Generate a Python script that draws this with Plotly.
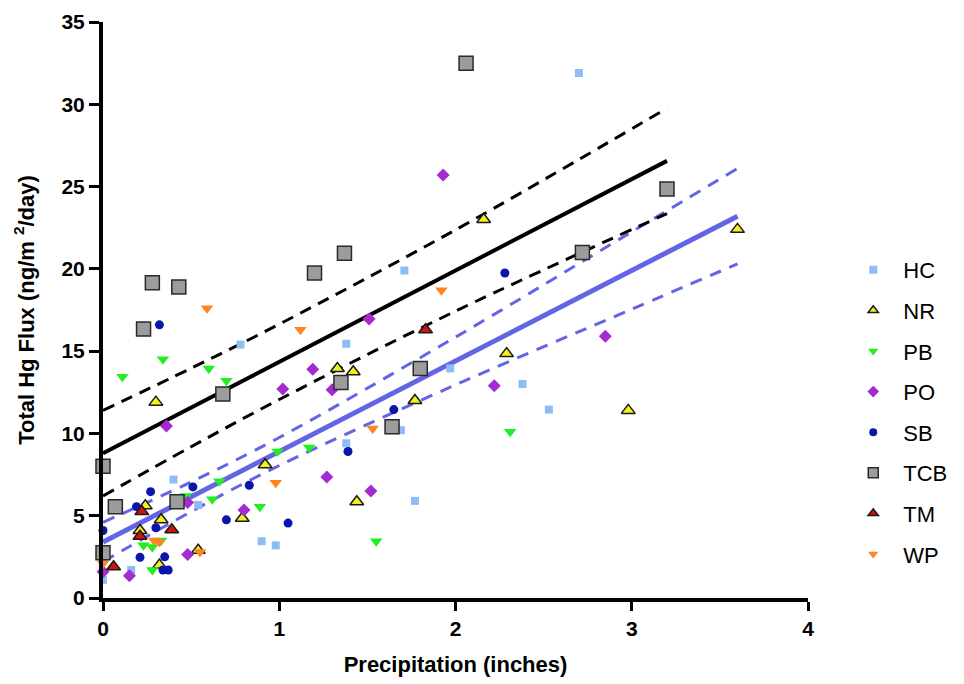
import plotly.graph_objects as go

# ---------------- data ----------------
series_names = ["HC", "NR", "PB", "PO", "SB", "TCB", "TM", "WP"]

hc_x = [0.00, 0.16, 0.40, 0.54, 0.78, 0.90, 0.98, 1.38, 1.38, 1.69, 1.71, 1.77, 1.97, 2.38, 2.53, 2.70]
hc_y = [1.1, 1.7, 7.2, 5.65, 15.4, 3.45, 3.2, 15.45, 9.4, 10.2, 19.9, 5.9, 13.95, 13.0, 11.45, 31.9]

nr_x = [0.21, 0.24, 0.30, 0.32, 0.33, 0.54, 0.79, 0.92, 1.33, 1.42, 1.44, 1.77, 2.16, 2.29, 2.98, 3.60]
nr_y = [4.1, 5.6, 11.9, 2.0, 4.75, 2.9, 4.85, 8.1, 13.95, 13.75, 5.85, 12.0, 23.0, 14.85, 11.4, 22.4]

pb_x = [0.11, 0.23, 0.28, 0.28, 0.33, 0.34, 0.47, 0.60, 0.62, 0.66, 0.70, 0.89, 0.99, 1.17, 1.55, 2.31]
pb_y = [13.45, 3.2, 1.7, 3.1, 3.5, 14.5, 6.2, 13.95, 6.0, 7.1, 13.2, 5.55, 8.9, 9.15, 3.45, 10.1]

po_x = [0.00, 0.15, 0.36, 0.48, 0.48, 0.80, 1.02, 1.19, 1.27, 1.30, 1.51, 1.52, 1.93, 2.22, 2.85]
po_y = [1.6, 1.35, 10.45, 2.65, 5.8, 5.35, 12.7, 13.9, 7.35, 12.65, 16.95, 6.5, 25.7, 12.9, 15.9]

sb_x = [0.00, 0.19, 0.21, 0.27, 0.30, 0.32, 0.34, 0.35, 0.37, 0.51, 0.70, 0.83, 1.05, 1.39, 1.65, 2.28]
sb_y = [4.1, 5.55, 2.47, 6.46, 4.27, 16.6, 1.7, 2.5, 1.7, 6.75, 4.75, 6.85, 4.55, 8.9, 11.45, 19.75]

tcb_x = [0.00, 0.00, 0.07, 0.23, 0.28, 0.42, 0.43, 0.68, 1.20, 1.35, 1.37, 1.64, 1.80, 2.06, 2.72, 3.20]
tcb_y = [2.75, 8.0, 5.55, 16.35, 19.15, 5.85, 18.9, 12.4, 19.75, 13.1, 20.95, 10.4, 13.95, 32.5, 21.0, 24.85]

tm_x = [0.06, 0.21, 0.22, 0.39, 1.83]
tm_y = [1.9, 3.75, 5.25, 4.15, 16.3]

wp_x = [0.00, 0.29, 0.32, 0.55, 0.59, 0.98, 1.12, 1.53, 1.92]
wp_y = [2.1, 3.5, 3.4, 2.8, 17.6, 7.0, 16.3, 10.3, 18.7]

# regression lines with 95% bands
tcb_fit_x = [0.0, 0.5, 1.0, 2.0, 3.2]
tcb_fit_y = [8.8, 11.58, 14.35, 19.9, 26.56]
tcb_fit_upper = [11.4, 13.96, 16.64, 22.37, 29.76]
tcb_fit_lower = [6.2, 9.19, 12.06, 17.43, 23.36]

oth_fit_x = [0.0, 0.5, 1.0, 2.0, 3.0, 3.6]
oth_fit_y = [3.4, 6.15, 8.9, 14.4, 19.9, 23.2]
oth_fit_upper = [4.6, 7.05, 9.75, 15.85, 22.25, 26.1]
oth_fit_lower = [2.2, 5.25, 8.05, 12.95, 17.55, 20.3]

x_ticks = [0, 1, 2, 3, 4]
y_ticks = [0, 5, 10, 15, 20, 25, 30, 35]

# ---------------- styling ----------------
series_data = {
    "HC": (hc_x, hc_y),
    "NR": (nr_x, nr_y),
    "PB": (pb_x, pb_y),
    "PO": (po_x, po_y),
    "SB": (sb_x, sb_y),
    "TCB": (tcb_x, tcb_y),
    "TM": (tm_x, tm_y),
    "WP": (wp_x, wp_y),
}
styles = {
    "HC": dict(symbol="square", size=8, color="#8DBDF3", line=dict(width=0)),
    "NR": dict(symbol="triangle-up", size=12, color="#F4F01E", line=dict(color="#1a1a1a", width=1.5)),
    "PB": dict(symbol="triangle-down", size=11, color="#22EE22", line=dict(width=0)),
    "PO": dict(symbol="diamond", size=10, color="#A42BD2", line=dict(width=0)),
    "SB": dict(symbol="circle", size=9, color="#0B16A8", line=dict(width=0)),
    "TCB": dict(symbol="square", size=14, color="#9C9C9C", line=dict(color="#2a2a2a", width=1.5)),
    "TM": dict(symbol="triangle-up", size=12, color="#D41010", line=dict(color="#1a1a1a", width=1.5)),
    "WP": dict(symbol="triangle-down", size=11, color="#FF8522", line=dict(width=0)),
}
legend_sizes = {"HC": 8, "NR": 9, "PB": 9, "PO": 9, "SB": 8, "TCB": 10, "TM": 9, "WP": 9}

BLUE = "#6464E6"
fig = go.Figure()

# fit lines (underneath points)
fig.add_trace(go.Scatter(x=oth_fit_x, y=oth_fit_upper, mode="lines", line=dict(color=BLUE, width=3, dash="12px,9px", shape="spline"), showlegend=False, hoverinfo="skip", cliponaxis=False))
fig.add_trace(go.Scatter(x=oth_fit_x, y=oth_fit_lower, mode="lines", line=dict(color=BLUE, width=3, dash="12px,9px", shape="spline"), showlegend=False, hoverinfo="skip", cliponaxis=False))
fig.add_trace(go.Scatter(x=oth_fit_x, y=oth_fit_y, mode="lines", line=dict(color=BLUE, width=5), showlegend=False, hoverinfo="skip", cliponaxis=False))
fig.add_trace(go.Scatter(x=tcb_fit_x, y=tcb_fit_upper, mode="lines", line=dict(color="black", width=3, dash="12px,8px", shape="spline"), showlegend=False, hoverinfo="skip", cliponaxis=False))
fig.add_trace(go.Scatter(x=tcb_fit_x, y=tcb_fit_lower, mode="lines", line=dict(color="black", width=3, dash="12px,8px", shape="spline"), showlegend=False, hoverinfo="skip", cliponaxis=False))
fig.add_trace(go.Scatter(x=tcb_fit_x, y=tcb_fit_y, mode="lines", line=dict(color="black", width=4), showlegend=False, hoverinfo="skip", cliponaxis=False))

# data points
for name in series_names:
    xs, ys = series_data[name]
    fig.add_trace(go.Scatter(x=xs, y=ys, mode="markers", name=name, marker=styles[name],
                             showlegend=False, cliponaxis=False))

# legend entries (smaller symbols, like the reference legend)
for name in series_names:
    st = dict(styles[name])
    st["size"] = legend_sizes[name]
    fig.add_trace(go.Scatter(x=[None], y=[None], mode="markers", name=name, marker=st,
                             legendgroup=name, showlegend=True))

FONT = "Liberation Sans, Arial, sans-serif"
fig.update_layout(
    width=956, height=676,
    margin=dict(l=95, r=148, t=14, b=86),
    paper_bgcolor="white", plot_bgcolor="white",
    font=dict(family=FONT, color="black"),
    showlegend=True,
    legend=dict(x=1.050, y=0.606, xanchor="left", yanchor="top",
                font=dict(family=FONT, size=22, color="black"),
                traceorder="grouped", tracegroupgap=9, itemsizing="trace", itemwidth=50,
                bgcolor="rgba(0,0,0,0)"),
    xaxis=dict(range=[0, 4], tickvals=x_ticks, ticktext=[str(v) for v in x_ticks],
               showline=True, linecolor="black", linewidth=4,
               ticks="outside", ticklen=9, tickwidth=3, tickcolor="black",
               showgrid=False, zeroline=False, automargin=False,
               tickfont=dict(family=FONT, size=21, weight="bold"),
               title=dict(text="Precipitation (inches)", font=dict(family=FONT, size=22, weight="bold"), standoff=18)),
    yaxis=dict(range=[0, 35], tickvals=y_ticks, ticktext=[str(v) for v in y_ticks],
               showline=True, linecolor="black", linewidth=4,
               ticks="outside", ticklen=10, tickwidth=3, tickcolor="black",
               showgrid=False, zeroline=False, automargin=False,
               tickfont=dict(family=FONT, size=21, weight="bold"),
               title=dict(text="Total Hg Flux (ng/m <sup>2</sup>/day)", font=dict(family=FONT, size=22, weight="bold"), standoff=22)),
)

fig.write_html("out.html")
